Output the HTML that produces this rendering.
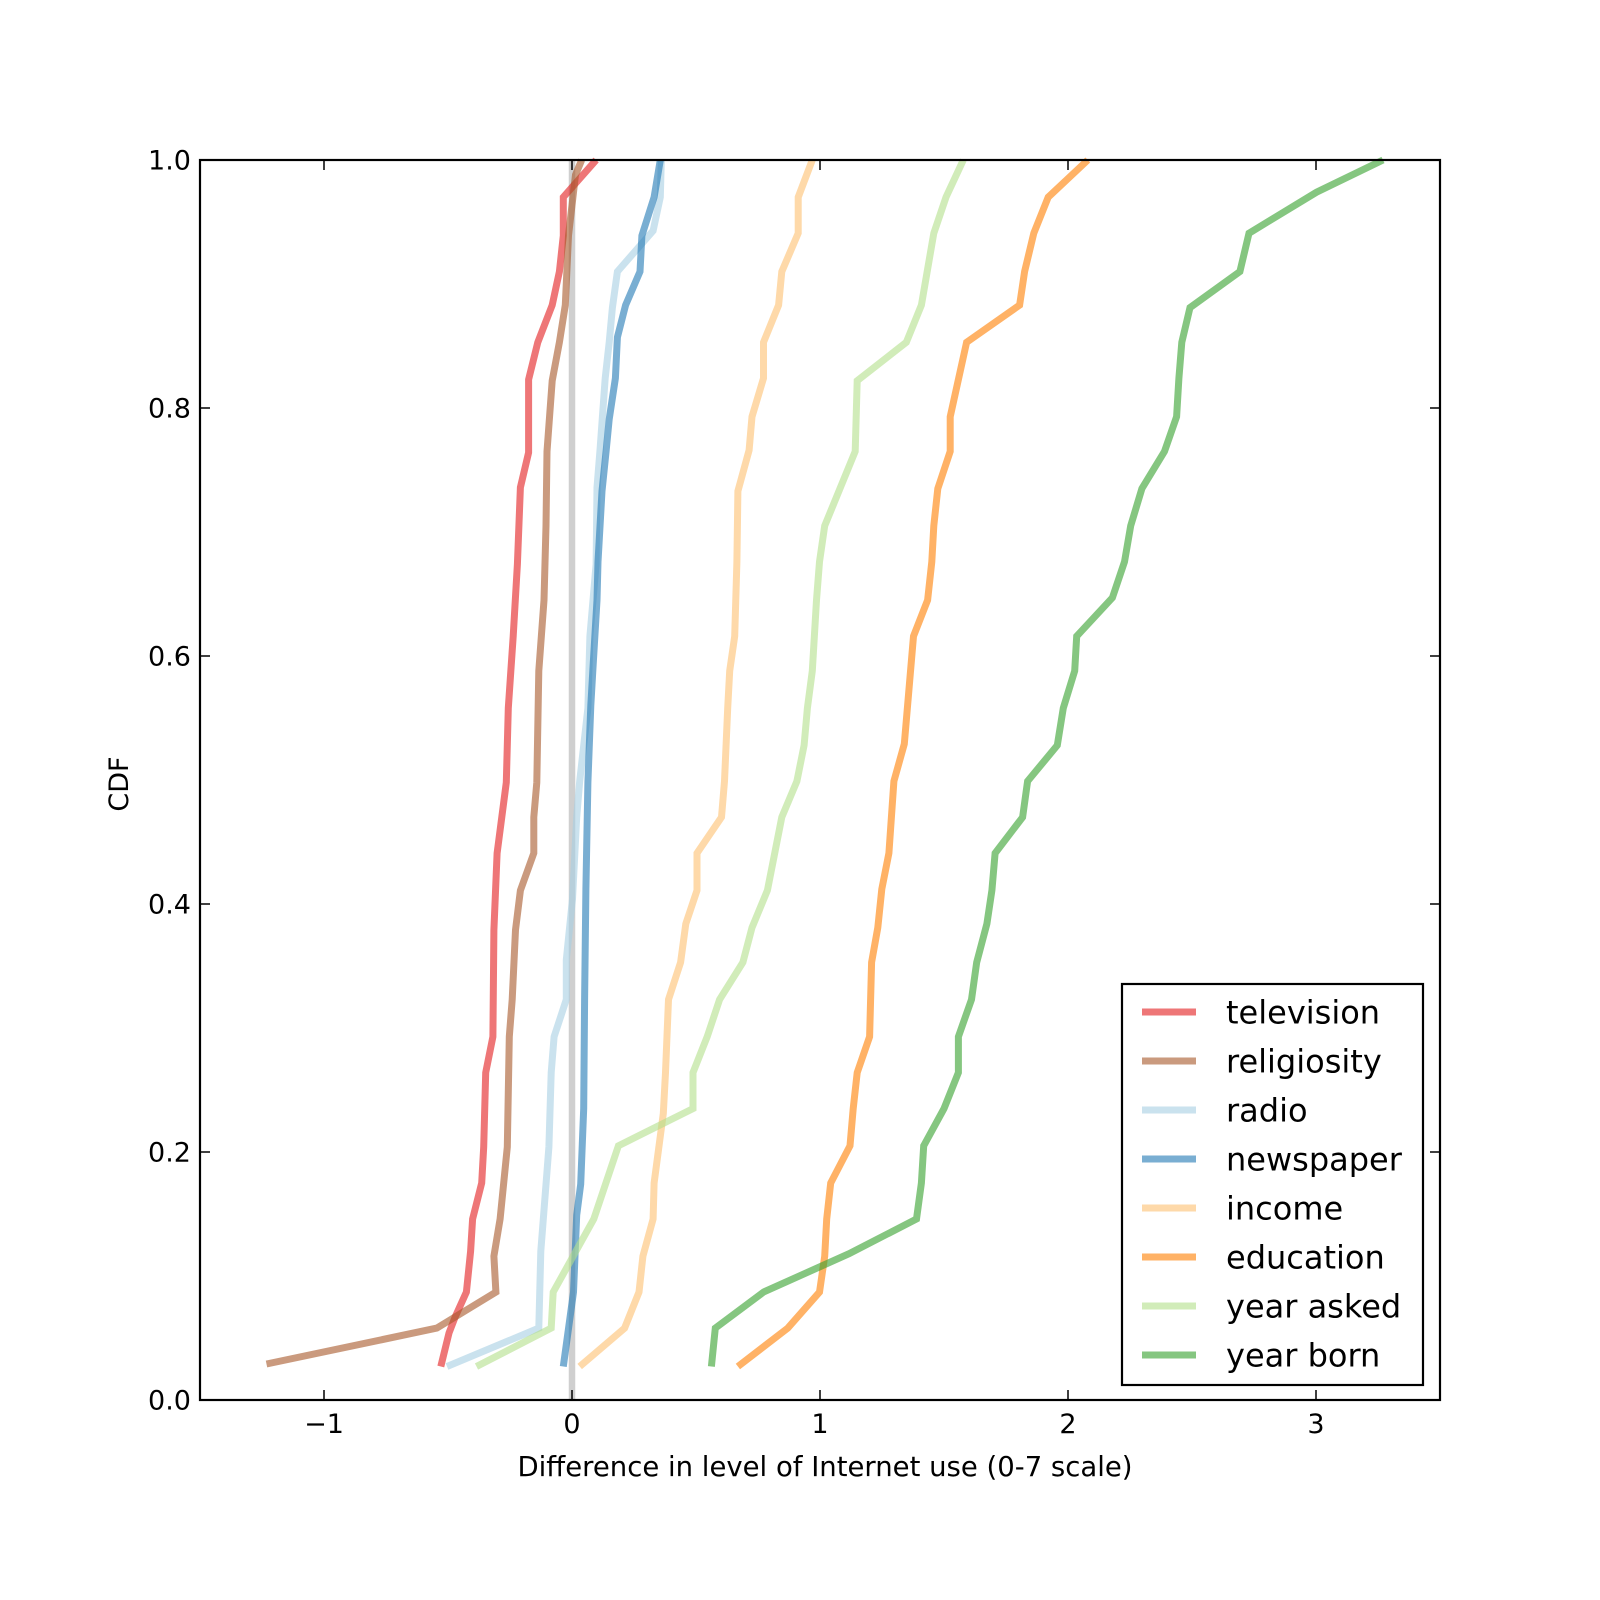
<!DOCTYPE html>
<html><head><meta charset="utf-8"><style>
html,body{margin:0;padding:0;background:#fff;}
svg{display:block;font-family:"DejaVu Sans","Liberation Sans",sans-serif;}
</style></head><body>
<svg id="chart" width="1600" height="1600" viewBox="0 0 1600 1600" xmlns="http://www.w3.org/2000/svg">
<rect x="0" y="0" width="1600" height="1600" fill="#fff"/>
<g id="plot"></g>
<g id="axes"></g>
<g id="legend"></g>
</svg>
<script>
const xTicks = [-1, 0, 1, 2, 3];
const xTickLabels = ["\u22121", "0", "1", "2", "3"];
const yTicks = [0, 0.2, 0.4, 0.6, 0.8, 1.0];
const yTickLabels = ["0.0", "0.2", "0.4", "0.6", "0.8", "1.0"];
const seriesNames = ["television","religiosity","radio","newspaper","income","education","year asked","year born"];

const televisionX = [-0.529,-0.496,-0.471,-0.426,-0.409,-0.401,-0.364,-0.356,-0.348,-0.319,-0.315,-0.302,-0.265,-0.257,-0.237,-0.220,-0.208,-0.175,-0.175,-0.138,-0.080,-0.051,-0.035,-0.035,0.097];
const televisionY = [0.027,0.054,0.067,0.087,0.12,0.146,0.175,0.204,0.264,0.293,0.379,0.441,0.498,0.558,0.616,0.674,0.736,0.764,0.823,0.853,0.883,0.910,0.939,0.970,1.0];
const religiosityX = [-1.232,-0.545,-0.307,-0.315,-0.290,-0.261,-0.253,-0.241,-0.228,-0.208,-0.154,-0.154,-0.142,-0.134,-0.113,-0.105,-0.101,-0.080,-0.051,-0.027,-0.014,0.014,0.039];
const religiosityY = [0.029,0.058,0.087,0.116,0.146,0.204,0.293,0.323,0.379,0.411,0.441,0.470,0.498,0.588,0.645,0.705,0.765,0.822,0.853,0.883,0.939,0.988,1.0];
const radioX = [-0.504,-0.134,-0.126,-0.093,-0.084,-0.072,-0.023,-0.023,0.002,0.019,0.031,0.064,0.072,0.097,0.101,0.113,0.134,0.150,0.163,0.183,0.327,0.356,0.360];
const radioY = [0.027,0.058,0.12,0.204,0.264,0.293,0.323,0.355,0.404,0.47,0.499,0.558,0.616,0.674,0.736,0.766,0.824,0.853,0.881,0.91,0.943,0.97,1.0];
const newspaperX = [-0.035,0.006,0.019,0.035,0.047,0.051,0.056,0.064,0.076,0.084,0.101,0.105,0.121,0.138,0.150,0.175,0.183,0.216,0.274,0.282,0.331,0.356];
const newspaperY = [0.027,0.087,0.149,0.174,0.235,0.323,0.412,0.498,0.56,0.588,0.645,0.676,0.733,0.766,0.791,0.824,0.857,0.883,0.91,0.939,0.97,1.0];
const incomeX = [0.031,0.212,0.270,0.286,0.327,0.331,0.368,0.377,0.389,0.438,0.459,0.504,0.504,0.603,0.615,0.628,0.636,0.656,0.665,0.669,0.714,0.726,0.772,0.772,0.833,0.846,0.912,0.912,0.969];
const incomeY = [0.027,0.058,0.087,0.116,0.146,0.175,0.231,0.264,0.323,0.353,0.384,0.411,0.441,0.47,0.499,0.558,0.588,0.616,0.676,0.733,0.766,0.793,0.824,0.853,0.883,0.91,0.941,0.97,1.0];
const educationX = [0.669,0.870,0.998,1.019,1.027,1.043,1.121,1.134,1.150,1.200,1.208,1.233,1.249,1.278,1.298,1.340,1.377,1.434,1.451,1.459,1.475,1.525,1.525,1.591,1.805,1.825,1.862,1.920,2.080];
const educationY = [0.027,0.058,0.087,0.116,0.146,0.175,0.205,0.235,0.264,0.293,0.353,0.381,0.412,0.441,0.499,0.529,0.616,0.645,0.676,0.705,0.735,0.765,0.793,0.853,0.883,0.91,0.941,0.97,1.0];
const yearAskedX = [-0.385,-0.084,-0.076,0.088,0.187,0.488,0.488,0.545,0.595,0.689,0.726,0.788,0.846,0.907,0.936,0.949,0.969,0.986,0.998,1.019,1.142,1.150,1.348,1.409,1.459,1.508,1.578];
const yearAskedY = [0.027,0.058,0.087,0.146,0.205,0.235,0.264,0.293,0.323,0.353,0.381,0.411,0.47,0.499,0.528,0.558,0.588,0.645,0.676,0.705,0.765,0.822,0.853,0.883,0.941,0.97,1.0];
const yearBornX = [0.562,0.578,0.772,1.117,1.389,1.409,1.418,1.500,1.558,1.558,1.611,1.632,1.673,1.693,1.706,1.817,1.837,1.957,1.981,2.027,2.035,2.179,2.228,2.253,2.298,2.389,2.438,2.447,2.459,2.492,2.693,2.730,3.002,3.270];
const yearBornY = [0.027,0.058,0.087,0.118,0.146,0.175,0.205,0.235,0.264,0.293,0.323,0.353,0.384,0.411,0.441,0.47,0.499,0.528,0.558,0.588,0.616,0.647,0.676,0.705,0.735,0.765,0.793,0.824,0.853,0.881,0.91,0.941,0.974,1.0];

const NS = "http://www.w3.org/2000/svg";
const L = 200, R = 1440, T = 160, B = 1400;
const xMin = -1.5, xMax = 3.5;
function sx(v){ return L + (v - xMin) / (xMax - xMin) * (R - L); }
function sy(v){ return B - v * (B - T); }
function mk(tag, attrs, parent){ const e = document.createElementNS(NS, tag); for (const k in attrs) e.setAttribute(k, attrs[k]); parent.appendChild(e); return e; }

const plot = document.getElementById('plot');
const axes = document.getElementById('axes');
const legend = document.getElementById('legend');

const zl = mk('line', {x1: sx(0), x2: sx(0), y1: T, y2: B, stroke: '#bbbbbb', 'stroke-width': 6.5, 'stroke-opacity': 0.7}, plot);



const colors = ["#e31a1c","#a65628","#a6cee3","#1f78b4","#fdbf6f","#ff7f00","#b2df8a","#33a02c"];
const xsAll = [televisionX, religiosityX, radioX, newspaperX, incomeX, educationX, yearAskedX, yearBornX];
const ysAll = [televisionY, religiosityY, radioY, newspaperY, incomeY, educationY, yearAskedY, yearBornY];

for (let s = 0; s < seriesNames.length; s++) {
  const pts = xsAll[s].map((x, i) => sx(x).toFixed(1) + ',' + sy(ysAll[s][i]).toFixed(1)).join(' ');
  const pl = mk('polyline', {points: pts, fill: 'none', stroke: colors[s], 'stroke-width': 7, 'stroke-opacity': 0.6, 'stroke-linejoin': 'miter'}, plot);
  
  
}

const fr = mk('rect', {x: L, y: T, width: R - L, height: B - T, fill: 'none', stroke: '#000', 'stroke-width': 2.2}, axes);



xTicks.forEach((v, i) => {
  const x = sx(v);
  mk('line', {x1: x, x2: x, y1: B, y2: B - 10, stroke: '#000', 'stroke-width': 1.5}, axes);
  mk('line', {x1: x, x2: x, y1: T, y2: T + 10, stroke: '#000', 'stroke-width': 1.5}, axes);
  const t = mk('text', {x: x, y: 1433, 'text-anchor': 'middle', 'font-size': 27}, axes);
  t.textContent = xTickLabels[i];
  
  
});
yTicks.forEach((v, i) => {
  const y = sy(v);
  mk('line', {x1: L, x2: L + 10, y1: y, y2: y, stroke: '#000', 'stroke-width': 1.5}, axes);
  mk('line', {x1: R, x2: R - 10, y1: y, y2: y, stroke: '#000', 'stroke-width': 1.5}, axes);
  const t = mk('text', {x: 191, y: y + 9.5, 'text-anchor': 'end', 'font-size': 27}, axes);
  t.textContent = yTickLabels[i];
  
  
});
const xl = mk('text', {x: 825, y: 1476, 'text-anchor': 'middle', 'font-size': 27.5}, axes);
xl.textContent = 'Difference in level of Internet use (0-7 scale)';


const yl = mk('text', {x: 0, y: 0, 'text-anchor': 'middle', 'font-size': 27, transform: 'translate(128,784) rotate(-90)'}, axes);
yl.textContent = 'CDF';



const lb = mk('rect', {x: 1122, y: 984, width: 301, height: 401, fill: '#fff', stroke: '#000', 'stroke-width': 2.2}, legend);


seriesNames.forEach((n, i) => {
  const y = 1012 + i * 49;
  const g = mk('g', {}, legend);
  
  
  mk('line', {x1: 1142, x2: 1196, y1: y, y2: y, stroke: colors[i], 'stroke-width': 7, 'stroke-opacity': 0.6}, g);
  const t = mk('text', {x: 1226, y: y + 11.5, 'font-size': 32}, g);
  t.textContent = n;
});
</script>
</body></html>
